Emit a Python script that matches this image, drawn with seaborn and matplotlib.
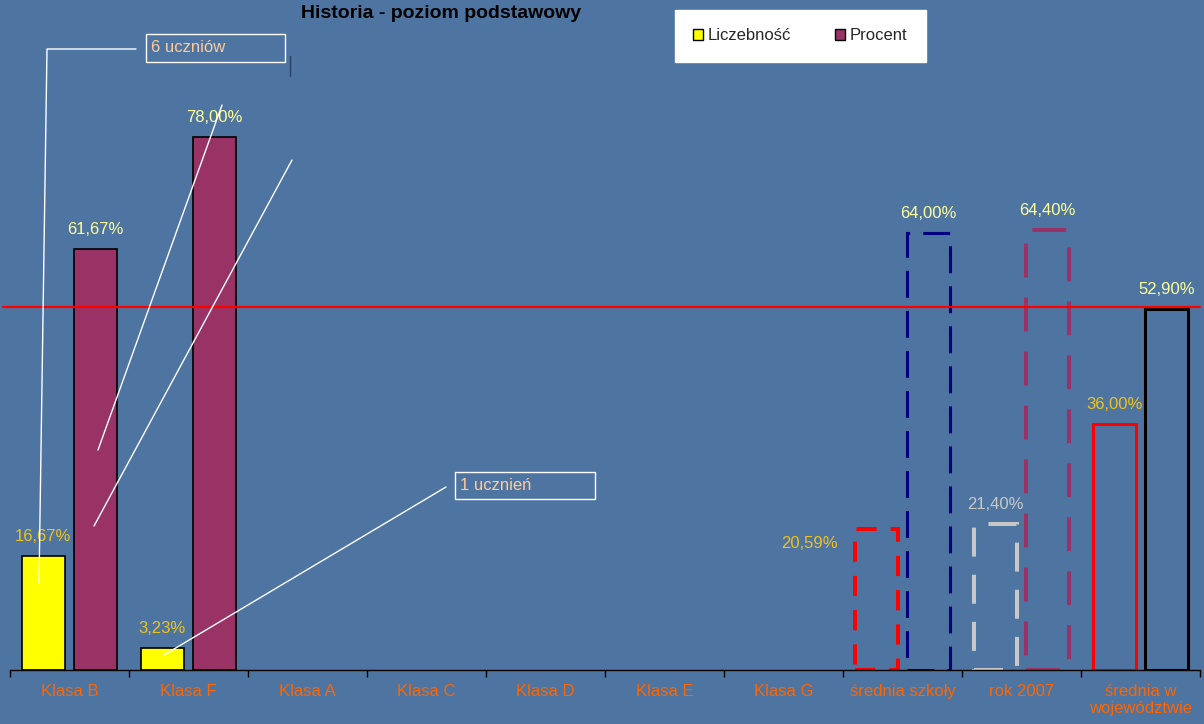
import matplotlib
matplotlib.use("Agg")
import matplotlib.pyplot as plt
import numpy as np
import pandas as pd
import seaborn as sns
from matplotlib.lines import Line2D
from matplotlib.patches import Patch, Rectangle

# --- data ---
kategorie = ["Klasa B", "Klasa F", "Klasa A", "Klasa C", "Klasa D", "Klasa E",
             "Klasa G", "średnia szkoły", "rok 2007", "średnia w\nwojewództwie"]
liczebnosc = [16.67, 3.23, np.nan, np.nan, np.nan, np.nan, np.nan, 20.59, 21.40, 36.00]
procent = [61.67, 78.00, np.nan, np.nan, np.nan, np.nan, np.nan, 64.00, 64.40, 52.90]
serie = ["Liczebność", "Procent"]
linia_odniesienia = 53.1

BG = "#4E74A1"
ORANGE = "#FF6600"
GOLD = "#EEC31C"
LIGHT_YELLOW = "#FFFF99"

W, H = 1204, 724
sns.set_theme(style="white", rc={"axes.facecolor": BG, "figure.facecolor": BG})
plt.rcParams["font.family"] = ["Liberation Sans", "DejaVu Sans"]

df = pd.DataFrame({
    "kategoria": kategorie * 2,
    "seria": [serie[0]] * len(kategorie) + [serie[1]] * len(kategorie),
    "wartosc": liczebnosc + procent,
}).dropna()

fig = plt.figure(figsize=(W / 100, H / 100), dpi=100)
ax = fig.add_axes([10 / W, 54 / H, 1190 / W, 670 / H])

sns.barplot(data=df, x="kategoria", y="wartosc", hue="seria", order=kategorie,
            hue_order=serie, palette=["#FFFF00", "#993366"], saturation=1,
            width=0.88, gap=0.18, errorbar=None, legend=False,
            edgecolor="black", linewidth=1.2, ax=ax)

# special styling of the summary bars: (colour, linewidth, dash pattern)
styl = {
    (7, 0): ("#FF0000", 2.9, (0, (5, 3.5))),
    (7, 1): ("#000080", 2.2, (0, (8.8, 4.3))),
    (8, 0): ("#C8C8C8", 2.9, (0, (7.2, 4.5))),
    (8, 1): ("#993366", 2.9, (0, (8.4, 5))),
    (9, 0): ("#FF0000", 2.2, "solid"),
    (9, 1): ("#000000", 2.2, "solid"),
}
kolory_etykiet = {(8, 0): "#C8C8C8"}

for s_idx, cont in enumerate(ax.containers):
    for bar in cont:
        h = bar.get_height()
        if np.isnan(h):
            continue
        xc = bar.get_x() + bar.get_width() / 2
        k = int(round(xc))
        if (k, s_idx) in styl:
            col, lw, ls = styl[(k, s_idx)]
            bar.set_facecolor("none")
            bar.set_edgecolor(col)
            bar.set_linewidth(lw)
            bar.set_linestyle(ls)
        txt = f"{h:.2f}".replace(".", ",") + "%"
        col = kolory_etykiet.get((k, s_idx), GOLD if s_idx == 0 else LIGHT_YELLOW)
        off = (-48, -10) if (k, s_idx) == (7, 0) else (0, 14)
        ax.annotate(txt, xy=(xc, h), xytext=off, textcoords="offset points",
                    ha="center", va="center", fontsize=12, color=col)

ax.set_ylim(0, 98.05)
ax.set_xlim(-0.5, len(kategorie) - 0.5)
ax.axhline(linia_odniesienia, color="#FF0000", lw=1.6, xmin=-0.006, xmax=1, clip_on=False)

for sp in ["top", "right", "left"]:
    ax.spines[sp].set_visible(False)
ax.spines["bottom"].set_color("black")
ax.spines["bottom"].set_linewidth(1.0)
ax.set_yticks([])
ax.set_xlabel("")
ax.set_ylabel("")
ax.set_xticks(range(len(kategorie)))
ax.set_xticklabels(kategorie, color=ORANGE, fontsize=12)
ax.set_xticks(np.arange(-0.5, len(kategorie)), minor=True)
ax.tick_params(axis="x", which="major", length=0, pad=10)
ax.tick_params(axis="x", which="minor", length=5, width=1, color="black", direction="out", bottom=True)

# title and legend
fig.text(441 / W, 1 - 14 / H, "Historia - poziom podstawowy", ha="center", va="center",
         fontsize=14, fontweight="bold", color="black")
handles = [Patch(facecolor="#FFFF00", edgecolor="black", lw=1),
           Patch(facecolor="#993366", edgecolor="black", lw=1)]
fig.legend(handles, serie, loc="center", bbox_to_anchor=(800 / W, 1 - 36 / H), ncol=2,
           frameon=True, facecolor="white", edgecolor="white", fancybox=False, framealpha=1,
           fontsize=12, borderpad=1.1, columnspacing=2.6, handletextpad=0.3,
           handlelength=0.6, handleheight=0.6)


def px(x, y):
    return x / W, 1 - y / H


# callout boxes and leader lines
for (x0, y0, x1, y1), napis in [((146, 34, 285, 62), "6 uczniów"),
                                 ((455, 472, 595, 499), "1 ucznień")]:
    fig.patches.append(Rectangle(px(x0, y1), (x1 - x0) / W, (y1 - y0) / H,
                                 transform=fig.transFigure, facecolor="none",
                                 edgecolor="white", lw=1))
    fig.text(*px(x0 + 5, (y0 + y1) / 2), napis, ha="left", va="center",
             fontsize=12, color="#FFCC99")

for pts in [[(136, 49), (47, 49), (39, 583)],
            [(222, 105), (98, 450)],
            [(292, 160), (94, 526)],
            [(446, 487), (164, 655)]]:
    xs, ys = zip(*[px(*p) for p in pts])
    fig.add_artist(Line2D(xs, ys, color="white", lw=1, transform=fig.transFigure))
xs, ys = zip(*[px(290, 56), px(290, 76)])
fig.add_artist(Line2D(xs, ys, color="#2E4060", lw=1, transform=fig.transFigure))

fig.savefig("out.png", dpi=100, facecolor=BG)
